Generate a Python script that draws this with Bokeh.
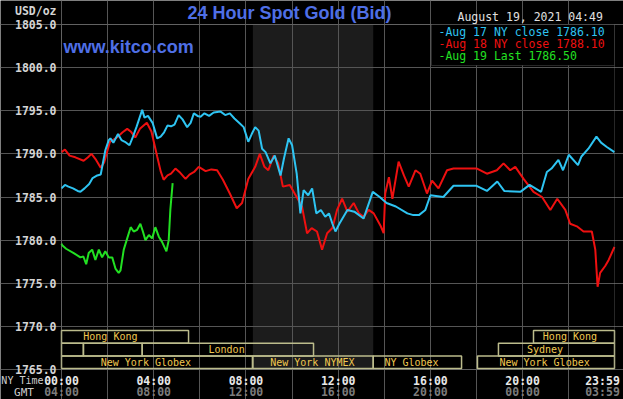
from bokeh.plotting import figure
from bokeh.models import (Range1d, FixedTicker, PrintfTickFormatter, BoxAnnotation,
                          Label, ColumnDataSource, LinearAxis)
from bokeh.core.properties import value
from bokeh.embed import file_html
from bokeh.resources import INLINE

# ---------------- data ----------------
aug17_h = [0.00, 0.15, 0.30, 0.50, 0.70, 0.82, 1.00, 1.20, 1.35, 1.55, 1.70, 1.80, 1.90, 2.05,
           2.12, 2.25, 2.45, 2.60, 2.75, 2.95, 3.10, 3.25, 3.50, 3.60, 3.75, 3.95, 4.15, 4.30,
           4.45, 4.60, 4.75, 4.90, 5.08, 5.25, 5.45, 5.60, 5.74, 5.90, 6.03, 6.20, 6.40, 6.60,
           6.90, 7.10, 7.30, 7.50, 7.70, 7.90, 8.10, 8.25, 8.40, 8.55, 8.70, 8.85, 9.06, 9.25,
           9.50, 9.65, 9.85, 10.00, 10.20, 10.36, 10.50, 10.70, 10.87, 11.05, 11.25, 11.44,
           11.60, 11.75, 11.88, 12.05, 12.40, 12.70, 13.10, 13.50, 13.80, 14.10, 14.50, 15.00,
           15.26, 15.50, 15.78, 16.00, 16.56, 17.00, 18.00, 18.45, 18.90, 19.20, 19.90, 20.30,
           20.80, 21.05, 21.25, 21.55, 21.75, 22.00, 22.40, 22.55, 22.85, 23.20, 23.40, 23.65,
           23.98]
aug17_v = [1786.0, 1786.4, 1786.2, 1786.0, 1785.7, 1785.6, 1786.0, 1786.5, 1787.2, 1787.5,
           1787.6, 1789.0, 1790.4, 1791.6, 1791.8, 1791.3, 1792.3, 1791.6, 1791.4, 1791.0,
           1792.0, 1793.1, 1795.1, 1794.2, 1794.4, 1793.6, 1791.8, 1792.0, 1792.5, 1793.3,
           1793.2, 1793.4, 1794.5, 1794.0, 1793.1, 1793.6, 1794.7, 1794.4, 1794.3, 1794.7,
           1794.4, 1794.8, 1794.9, 1794.5, 1794.7, 1794.1, 1793.6, 1793.1, 1791.4, 1792.3,
           1793.1, 1792.7, 1790.6, 1790.2, 1788.9, 1789.8, 1787.5, 1789.5, 1791.8, 1791.0,
           1787.7, 1783.1, 1785.8, 1785.2, 1786.0, 1783.1, 1783.5, 1782.7, 1783.1, 1781.9,
           1781.0, 1781.9, 1783.5, 1783.3, 1782.5, 1785.6, 1785.0, 1784.3, 1783.9, 1783.1,
           1782.9, 1782.9, 1783.5, 1785.2, 1785.0, 1786.3, 1786.3, 1785.7, 1786.8, 1785.7,
           1785.6, 1786.4, 1785.6, 1787.9, 1788.3, 1789.3, 1788.1, 1789.9, 1788.7, 1789.7,
           1790.6, 1792.0, 1791.3, 1790.8, 1790.2]

aug18_h = [0.00, 0.15, 0.35, 0.60, 0.96, 1.15, 1.30, 1.50, 1.70, 1.85, 2.10, 2.40, 2.65, 2.85,
           3.00, 3.20, 3.40, 3.70, 3.90, 4.15, 4.30, 4.43, 4.60, 4.75, 4.94, 5.15, 5.38, 5.55,
           5.75, 5.95, 6.25, 6.50, 6.75, 7.00, 7.30, 7.60, 7.83, 8.10, 8.40, 8.60, 8.80, 8.97,
           9.20, 9.40, 9.60, 9.90, 10.20, 10.43, 10.65, 10.85, 11.08, 11.30, 11.52, 11.75,
           11.95, 12.17, 12.40, 12.67, 12.90, 13.10, 13.32, 13.54, 13.83, 13.97, 14.04, 14.20,
           14.35, 14.62, 14.85, 15.06, 15.35, 15.56, 15.85, 16.07, 16.35, 16.72, 17.00, 18.02,
           18.45, 18.88, 19.17, 19.46, 19.68, 20.04, 20.47, 20.84, 21.20, 21.50, 21.85, 22.06,
           22.35, 22.64, 23.00, 23.15, 23.25, 23.36, 23.58, 23.73, 23.98]
aug18_v = [1790.2, 1790.5, 1789.8, 1789.6, 1789.2, 1789.6, 1790.0, 1789.3, 1788.4, 1789.0,
           1791.4, 1791.9, 1792.5, 1792.9, 1792.6, 1791.9, 1792.9, 1793.6, 1792.6, 1789.7,
           1788.0, 1787.0, 1787.5, 1787.7, 1788.3, 1787.8, 1787.1, 1787.6, 1787.9, 1788.5,
           1788.0, 1788.2, 1788.1, 1787.0, 1785.4, 1783.7, 1784.3, 1787.1, 1788.5, 1790.0,
           1788.5, 1788.1, 1789.8, 1788.9, 1786.2, 1786.4, 1785.0, 1783.9, 1780.8, 1781.4,
           1781.0, 1778.9, 1780.8, 1781.4, 1783.5, 1784.8, 1783.3, 1784.3, 1783.1, 1782.7,
           1783.5, 1783.1, 1781.7, 1780.8, 1785.4, 1787.3, 1784.8, 1789.1, 1787.5, 1786.2,
           1788.1, 1787.7, 1785.4, 1786.9, 1786.0, 1788.1, 1788.3, 1788.3, 1787.7, 1788.1,
           1788.9, 1788.1, 1788.5, 1787.1, 1785.6, 1785.0, 1783.5, 1784.8, 1783.5, 1781.9,
           1781.6, 1781.0, 1781.0, 1778.9, 1774.6, 1776.2, 1777.0, 1777.7, 1779.2]

aug19_h = [0.00, 0.03, 0.20, 0.53, 0.82, 0.95, 1.07, 1.18, 1.33, 1.47, 1.62, 1.76, 1.90, 2.05,
           2.20, 2.34, 2.48, 2.56, 2.70, 2.85, 3.00, 3.13, 3.28, 3.42, 3.53, 3.64, 3.79, 3.93,
           4.07, 4.22, 4.36, 4.55, 4.65, 4.72, 4.82]
aug19_v = [1779.6, 1779.4, 1779.0, 1778.5, 1778.0, 1778.1, 1777.2, 1778.5, 1778.9, 1777.7,
           1778.9, 1778.0, 1778.7, 1778.0, 1778.0, 1776.7, 1776.2, 1776.5, 1778.9, 1780.2,
           1781.5, 1781.0, 1781.2, 1781.9, 1781.0, 1780.0, 1780.6, 1780.2, 1781.5, 1780.4,
           1779.8, 1778.7, 1780.0, 1783.5, 1786.6]

legend_texts = ["Aug 17 NY close 1786.10", "Aug 18 NY close 1788.10", "Aug 19 Last 1786.50"]

y_ticks = [1765, 1770, 1775, 1780, 1785, 1790, 1795, 1800, 1805]
grid_hours = [0, 2, 4, 6, 8, 10, 12, 14, 16, 18, 20, 22]
tick_hours = [0, 4, 8, 12, 16, 20, 23.983]
ny_labels = ["00:00", "04:00", "08:00", "12:00", "16:00", "20:00", "23:59"]
gmt_labels = ["04:00", "08:00", "12:00", "16:00", "20:00", "00:00", "03:59"]

nymex_start, nymex_end = 8.30, 13.52

sess_names = ["Hong Kong", "Hong Kong", "", "", "London", "Sydney",
              "New York Globex", "New York NYMEX", "NY Globex", "New York Globex"]
sess_row = [0, 0, 1, 1, 1, 1, 2, 2, 2, 2]
sess_start = [0.00, 20.47, 0.00, 0.95, 3.50, 18.95, 0.00, 8.30, 13.52, 18.04]
sess_end = [5.51, 23.983, 0.95, 3.50, 10.93, 23.983, 8.28, 13.52, 17.35, 23.983]
sess_label_h = [2.12, 22.05, 0.47, 2.22, 7.16, 20.97, 3.66, 10.88, 15.18, 20.95]

# ---------------- layout ----------------
W, H = 623, 399
X0, X1, Y0, Y1 = 61, 614, 24, 369         # plot-area edges in pixels
XMAX = 23.983
YMIN, YMAX = 1765, 1805
PX_H = (X1 - X0) / XMAX
PX_U = (Y1 - Y0) / (YMAX - YMIN)


def hx(wx):
    return (wx - X0) / PX_H


def uy(wy):
    return YMAX - (wy - Y0) / PX_U


MONO = "DejaVu Sans Mono"
SANS = "Liberation Sans"
BLUE, RED, GREEN = "#2ec4f2", "#ee1010", "#22e022"
TITLE_BLUE = "#4f6fe6"
GRID = "#555555"

# the frame spans the whole canvas; the price area is [0, XMAX] x [YMIN, YMAX]
p = figure(width=W, height=H, x_range=Range1d(hx(0), hx(W)), y_range=Range1d(uy(H), uy(0)),
           output_backend="svg", toolbar_location=None, min_border=0,
           min_border_left=0, min_border_right=0, min_border_top=0, min_border_bottom=0,
           background_fill_color="black", border_fill_color="black",
           outline_line_color=None)

p.xgrid.ticker = FixedTicker(ticks=grid_hours)
p.xgrid.bounds = (YMIN, YMAX)
p.xgrid.grid_line_color = GRID
p.ygrid.ticker = FixedTicker(ticks=y_ticks)
p.ygrid.bounds = (0, XMAX)
p.ygrid.grid_line_color = GRID

# y axis drawn at hour 0
ya = p.yaxis[0]
ya.fixed_location = 0
ya.ticker = FixedTicker(ticks=y_ticks)
ya.formatter = PrintfTickFormatter(format="%.1f")
ya.axis_line_color = None
ya.major_tick_line_color = None
ya.minor_tick_line_color = None
ya.major_tick_out = 0
ya.major_tick_in = 0
ya.major_label_standoff = 5
ya.major_label_text_font = MONO
ya.major_label_text_font_style = "bold"
ya.major_label_text_font_size = "11.5px"
ya.major_label_text_color = "#d4d4d4"

# x axes (NY time and GMT) drawn at the bottom of the price area
last_pos = hx(602)
ny_pos = [h if h < 23 else last_pos for h in tick_hours]


def style_xaxis(ax, labels, color, standoff):
    ax.fixed_location = YMIN
    ax.ticker = FixedTicker(ticks=ny_pos)
    ax.major_label_overrides = {pos: lab for pos, lab in zip(ny_pos, labels)}
    ax.axis_line_color = None
    ax.major_tick_line_color = None
    ax.minor_tick_line_color = None
    ax.major_tick_out = 0
    ax.major_tick_in = 0
    ax.major_label_standoff = standoff
    ax.major_label_text_font = MONO
    ax.major_label_text_font_style = "bold"
    ax.major_label_text_font_size = "11.5px"
    ax.major_label_text_color = color


style_xaxis(p.xaxis[0], ny_labels, "#e8e8e8", 4)
gmt_axis = LinearAxis()
style_xaxis(gmt_axis, gmt_labels, "#7c7c7c", 15)
p.add_layout(gmt_axis, "below")

# NYMEX shading
p.add_layout(BoxAnnotation(left=nymex_start, right=nymex_end, top=YMAX, bottom=YMIN,
                           fill_color="#1c1c1c", fill_alpha=1.0, line_color=None,
                           level="image"))

# session boxes
row_top = [uy(330 + 12.7 * r) for r in sess_row]
row_bot = [uy(342.7 + 12.7 * r) for r in sess_row]
row_mid = [uy(336.3 + 12.9 * r) for r in sess_row]
ssrc = ColumnDataSource(dict(left=sess_start, right=sess_end, top=row_top, bottom=row_bot,
                             name=sess_names, xm=sess_label_h, ym=row_mid))
p.quad(left="left", right="right", top="top", bottom="bottom", source=ssrc,
       fill_color=None, line_color="#bcbc8c", line_width=1.5)
p.text(x="xm", y="ym", text="name", source=ssrc, text_font=value(MONO),
       text_font_size=value("10px"), text_color="#f0c850", text_align="center",
       text_baseline="middle")

# series
p.line(aug18_h, aug18_v, line_color=RED, line_width=2)
p.line(aug17_h, aug17_v, line_color=BLUE, line_width=2)
p.line(aug19_h, aug19_v, line_color=GREEN, line_width=2)

# plot-area outline
p.add_layout(BoxAnnotation(left=0, right=XMAX, top=YMAX, bottom=YMIN, fill_color=None,
                           fill_alpha=0, line_color="#808080", line_width=1))

# legend box
p.add_layout(BoxAnnotation(left=hx(431), right=XMAX, top=YMAX, bottom=uy(65),
                           fill_color="black", fill_alpha=1.0, line_color="#808080",
                           line_width=1))


def label(wx, wy, text, **kw):
    p.add_layout(Label(x=hx(wx), y=uy(wy), text=text, text_baseline="middle", **kw))


for i, (txt, col) in enumerate(zip(legend_texts, [BLUE, RED, GREEN])):
    label(438, 31.5 + 12.2 * i, "-" + txt, text_font=MONO, text_font_size="11.5px",
          text_color=col, text_align="left")

label(289, 12, "24 Hour Spot Gold (Bid)", text_font=SANS, text_font_style="bold",
      text_font_size="18px", text_color=TITLE_BLUE, text_align="center")
label(63, 46, "www.kitco.com", text_font=SANS, text_font_style="bold",
      text_font_size="18px", text_color=TITLE_BLUE, text_align="left")
label(457, 16.5, "August 19, 2021 04:49", text_font=MONO, text_font_size="11.5px",
      text_color="#e0e0e0", text_align="left")
label(56, 10, "USD/oz", text_font=MONO, text_font_style="bold", text_font_size="11.5px",
      text_color="#d4d4d4", text_align="right")
label(43, 380, "NY Time", text_font=MONO, text_font_size="10px", text_color="#cccccc",
      text_align="right")
label(23.5, 391.5, "GMT", text_font=MONO, text_font_size="11px", text_color="#cccccc",
      text_align="center")

open("out.html", "w").write(file_html(p, INLINE))
